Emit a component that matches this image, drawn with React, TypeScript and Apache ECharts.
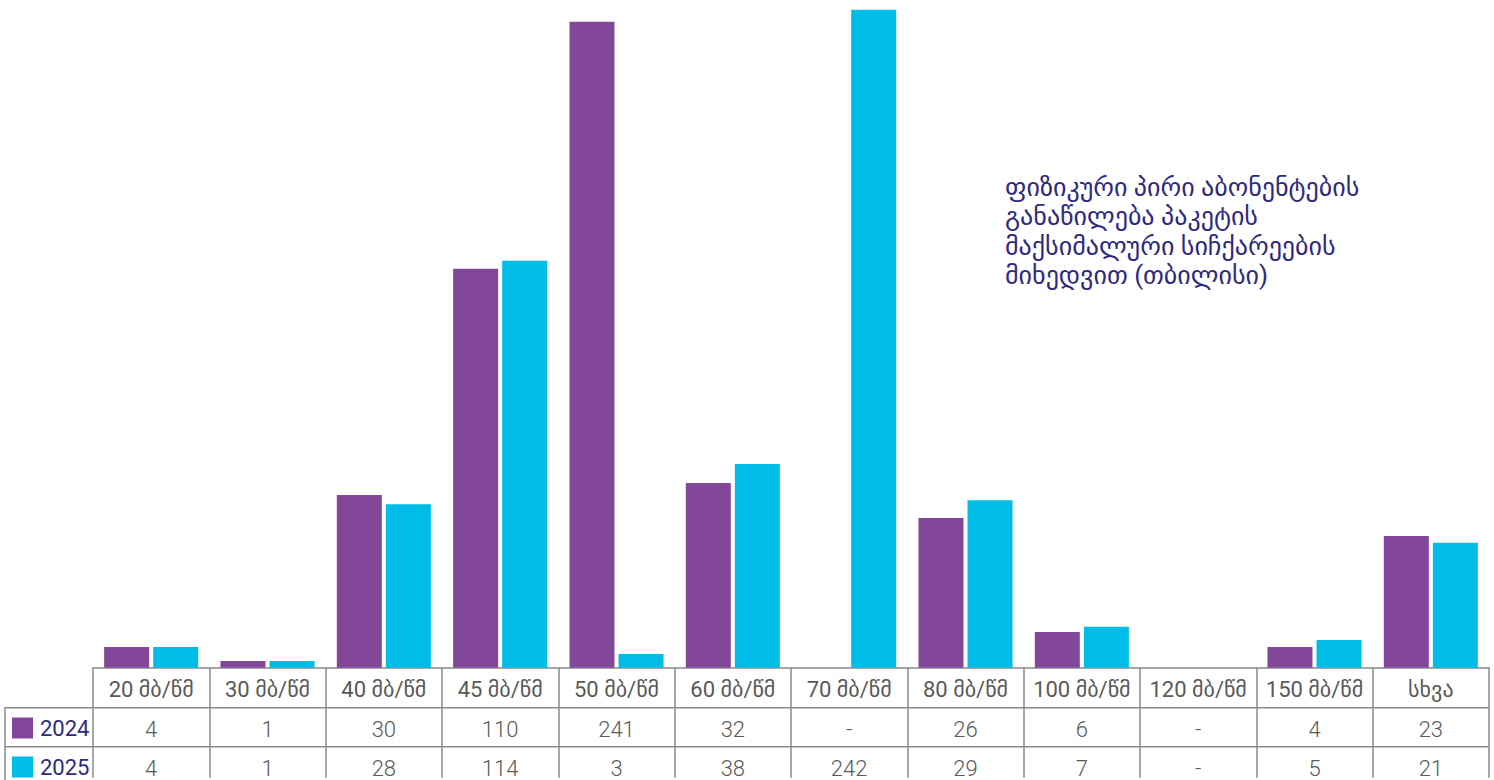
import React, { useEffect, useRef } from "react";
import * as echarts from "echarts";

const categories = [
  "20 მბ/წმ", "30 მბ/წმ", "40 მბ/წმ", "45 მბ/წმ", "50 მბ/წმ", "60 მბ/წმ",
  "70 მბ/წმ", "80 მბ/წმ", "100 მბ/წმ", "120 მბ/წმ", "150 მბ/წმ", "სხვა",
];
const seriesNames = ["2024", "2025"];
// values printed in the data table
const table2024 = ["4", "1", "30", "110", "241", "32", "-", "26", "6", "-", "4", "23"];
const table2025 = ["4", "1", "28", "114", "3", "38", "242", "29", "7", "-", "5", "21"];
// bar heights as drawn in the picture (the tallest bars are visually compressed)
const bars2024 = [3.6, 1.16, 30.0, 69.3, 112.2, 32.1, null, 26.0, 6.2, null, 3.6, 22.9];
const bars2025 = [3.6, 1.16, 28.4, 70.7, 2.4, 35.4, 114.3, 29.1, 7.1, null, 4.8, 21.7];
const titleText =
  "ფიზიკური პირი აბონენტების\nგანაწილება პაკეტის\nმაქსიმალური სიჩქარეების\nმიხედვით (თბილისი)";

const PURPLE = "#83479a";
const CYAN = "#00bde7";
const NAVY = "#2e2a80";
const GRAY_TEXT = "#595959";
const LINE = "#8a8a8a";
const FONT = "Roboto, 'DejaVu Sans', sans-serif";

export default function App() {
  const ref = useRef<HTMLDivElement>(null);
  useEffect(() => {
    if (!ref.current) return;
    const chart = echarts.init(ref.current, undefined, { renderer: "svg" });
    const W = 1494;
    const gridLeft = 93;
    const gridRight = 5;
    const tableRight = W - gridRight;
    const axisBase = {
      type: "category" as const,
      data: categories,
      position: "bottom" as const,
      offset: 4,
      axisLine: { show: false },
      axisTick: { show: false },
    };
    chart.setOption({
      animation: false,
      backgroundColor: "#ffffff",
      title: {
        text: titleText,
        left: 1005,
        top: 172,
        padding: 0,
        textStyle: {
          color: NAVY,
          fontFamily: FONT,
          fontSize: 26,
          fontWeight: "normal",
          lineHeight: 29.5,
        },
      },
      legend: {
        orient: "vertical",
        left: 12,
        top: 717,
        padding: 0,
        itemWidth: 21,
        itemHeight: 21,
        itemGap: 17,
        icon: "rect",
        textStyle: { color: NAVY, fontFamily: FONT, fontSize: 22, padding: [0, 0, 0, 2] },
        data: seriesNames,
      },
      grid: { left: gridLeft, right: gridRight, top: 0, bottom: 112.3 },
      xAxis: [
        {
          ...axisBase,
          axisLine: { show: true, lineStyle: { color: "#a6a6a6", width: 2 } },
          axisTick: { show: true, length: 110, lineStyle: { color: LINE, width: 1.5 } },
          axisLabel: {
            interval: 0,
            margin: 7,
            color: GRAY_TEXT,
            fontFamily: FONT,
            fontSize: 22,
          },
        },
        {
          ...axisBase,
          axisLabel: {
            interval: 0,
            margin: 47,
            color: GRAY_TEXT,
            fontFamily: FONT,
            fontSize: 22,
            fontWeight: 300,
            formatter: (_v: string, i: number) => table2024[i],
          },
        },
        {
          ...axisBase,
          axisLabel: {
            interval: 0,
            margin: 86,
            color: GRAY_TEXT,
            fontFamily: FONT,
            fontSize: 22,
            fontWeight: 300,
            formatter: (_v: string, i: number) => table2025[i],
          },
        },
      ],
      yAxis: { type: "value", min: 0, max: 116, show: false },
      series: [
        {
          name: seriesNames[0],
          type: "bar",
          xAxisIndex: 0,
          data: bars2024,
          barWidth: 45,
          barGap: "9%",
          itemStyle: { color: PURPLE },
        },
        {
          name: seriesNames[1],
          type: "bar",
          xAxisIndex: 0,
          data: bars2025,
          barWidth: 45,
          barGap: "9%",
          itemStyle: { color: CYAN },
        },
      ],
      graphic: [
        {
          type: "line",
          shape: { x1: 5, y1: 707.7, x2: tableRight, y2: 707.7 },
          style: { stroke: LINE, lineWidth: 1.5 },
        },
        {
          type: "line",
          shape: { x1: 5, y1: 746.7, x2: tableRight, y2: 746.7 },
          style: { stroke: LINE, lineWidth: 1.5 },
        },
        {
          type: "line",
          shape: { x1: 5, y1: 707, x2: 5, y2: 780 },
          style: { stroke: LINE, lineWidth: 1.5 },
        },
      ],
    });
    return () => chart.dispose();
  }, []);
  return (
    <div
      ref={ref}
      style={{ position: "fixed", left: 0, top: 0, width: 1494, height: 780, background: "#fff" }}
    />
  );
}
